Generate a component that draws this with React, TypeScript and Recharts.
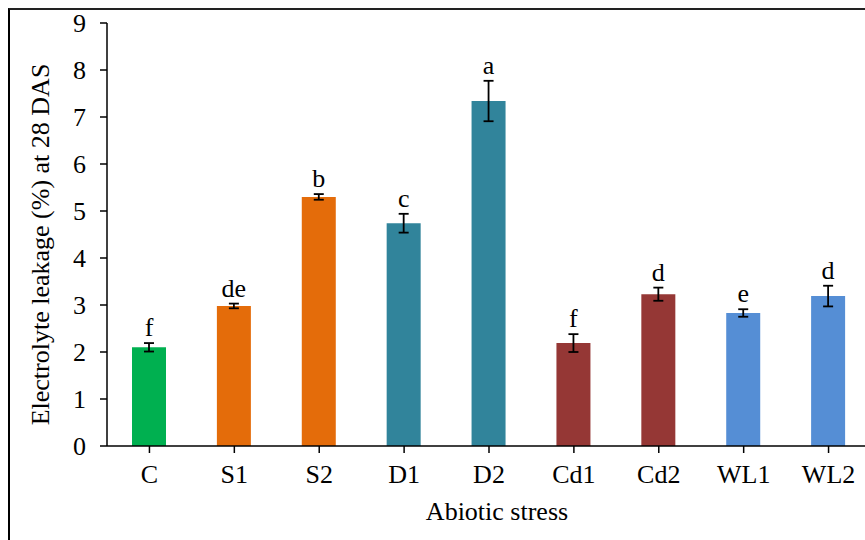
import React from 'react';
import { BarChart, Bar, XAxis, YAxis, ErrorBar, Cell, LabelList, Label } from 'recharts';

const treatments = ['C', 'S1', 'S2', 'D1', 'D2', 'Cd1', 'Cd2', 'WL1', 'WL2'];
const leakage = [2.1, 2.98, 5.3, 4.74, 7.34, 2.19, 3.23, 2.83, 3.19];
const stdErr = [0.09, 0.05, 0.06, 0.2, 0.43, 0.19, 0.14, 0.08, 0.22];
const groupLetters = ['f', 'de', 'b', 'c', 'a', 'f', 'd', 'e', 'd'];
const barColors = ['#00B050', '#E46C0A', '#E46C0A', '#31849B', '#31849B', '#953735', '#953735', '#558ED5', '#558ED5'];
const yTicks = [0, 1, 2, 3, 4, 5, 6, 7, 8, 9];

const rows = treatments.map((name, i) => ({
  name,
  value: leakage[i],
  err: stdErr[i],
  letter: groupLetters[i],
}));

const FONT = '"Liberation Serif", "Times New Roman", serif';
const FS = 26;

// significance letter sits just above the top of the error bar
const LetterLabel = (props: any) => {
  const { x, y, width, height, index } = props;
  const v = leakage[index];
  const pxPerUnit = height / v;
  const top = y - stdErr[index] * pxPerUnit;
  return (
    <text
      x={x + width / 2}
      y={top - 7}
      textAnchor="middle"
      fontFamily={FONT}
      fontSize={FS}
      fill="#000"
    >
      {groupLetters[index]}
    </text>
  );
};

const YTitle = (props: any) => {
  const { viewBox } = props;
  const cx = viewBox.x + 30;
  const cy = viewBox.y + viewBox.height / 2 + 10;
  return (
    <text
      x={cx}
      y={cy}
      transform={`rotate(-90, ${cx}, ${cy})`}
      textAnchor="middle"
      dominantBaseline="central"
      fontFamily={FONT}
      fontSize={FS}
      fill="#000"
    >
      Electrolyte leakage (%) at 28 DAS
    </text>
  );
};

export default function App() {
  return (
    <div
      style={{
        position: 'absolute',
        left: 8,
        top: 8,
        width: 857,
        height: 532,
        overflow: 'hidden',
        boxSizing: 'border-box',
        borderLeft: '2px solid #000',
        borderTop: '2px solid #222',
        background: '#fff',
      }}
    >
      <BarChart
        width={870}
        height={530}
        data={rows}
        margin={{ top: 13, right: 9, bottom: 14, left: 0 }}
        barCategoryGap={0}
      >
        <XAxis
          dataKey="name"
          interval={0}
          height={80}
          tickSize={7}
          tickMargin={12}
          axisLine={{ stroke: '#000', strokeWidth: 1.5 }}
          tickLine={{ stroke: '#000', strokeWidth: 1.5 }}
          tick={{ fill: '#000', fontSize: FS, fontFamily: FONT }}
        >
          <Label
            value="Abiotic stress"
            position="insideBottom"
            offset={6}
            dx={8}
            style={{ fill: '#000', fontSize: FS, fontFamily: FONT }}
          />
        </XAxis>
        <YAxis
          domain={[0, 9]}
          ticks={yTicks}
          width={97}
          tickSize={7}
          tickMargin={14}
          interval={0}
          axisLine={{ stroke: '#000', strokeWidth: 1.5 }}
          tickLine={{ stroke: '#000', strokeWidth: 1.5 }}
          tick={{ fill: '#000', fontSize: FS, fontFamily: FONT }}
        >
          <Label content={<YTitle />} />
        </YAxis>
        <Bar dataKey="value" barSize={34} isAnimationActive={false}>
          {rows.map((r, i) => (
            <Cell key={r.name} fill={barColors[i]} />
          ))}
          <ErrorBar dataKey="err" width={5} stroke="#000" strokeWidth={1.8} direction="y" />
          <LabelList dataKey="letter" content={<LetterLabel />} />
        </Bar>
      </BarChart>
    </div>
  );
}
